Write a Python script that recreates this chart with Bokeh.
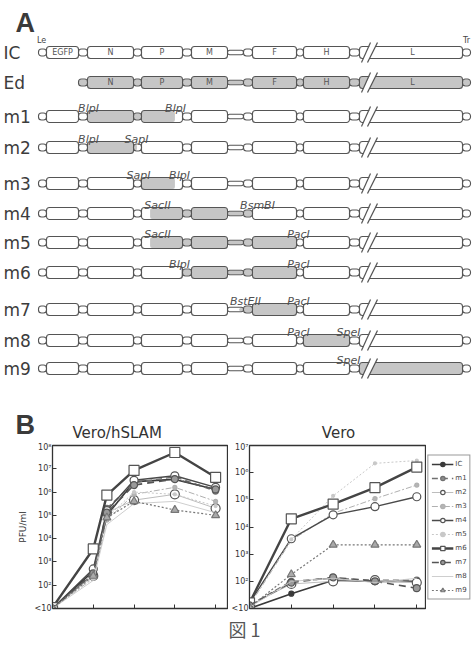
from bokeh.plotting import figure
from bokeh.models import Range1d, FixedTicker, CustomJSTickFormatter, Legend, LegendItem
from bokeh.layouts import column, row
from bokeh.core.properties import value
from bokeh.embed import file_html
from bokeh.resources import INLINE

# ------------------------------------------------------------------ data
construct_labels = ["IC", "Ed", "m1", "m2", "m3", "m4", "m5", "m6", "m7", "m8", "m9"]
gene_names = ["N", "P", "M", "F", "H", "L"]
reporter_name = "EGFP"
sites_m1 = ["BlpI", "BlpI"]
sites_m2 = ["BlpI", "SapI"]
sites_m3 = ["SapI", "BlpI"]
sites_m4 = ["SacII", "BsmBI"]
sites_m5 = ["SacII", "PacI"]
sites_m6 = ["BlpI", "PacI"]
sites_m7 = ["BstEII", "PacI"]
sites_m8 = ["PacI", "SpeI"]
sites_m9 = ["SpeI"]

series_names = ["IC", "m1", "m2", "m3", "m4", "m5", "m6", "m7", "m8", "m9"]

hours_hslam = [0, 24, 32, 48, 72, 96]
hslam_IC = [10, 400, 1.0e5, 2.8e6, 3.5e6, 1.3e6]
hslam_m1 = [10, 300, 2.0e5, 2.5e6, 4.5e6, 1.1e6]
hslam_m2 = [10, 250, 1.3e5, 4.5e5, 8.0e5, 2.0e5]
hslam_m3 = [10, 200, 6.3e4, 8.0e5, 1.6e6, 4.0e5]
hslam_m4 = [10, 500, 1.6e5, 3.2e6, 5.0e6, 1.6e6]
hslam_m5 = [10, 200, 8.0e4, 1.0e6, 8.0e5, 2.5e5]
hslam_m6 = [11, 3.6e3, 7.4e5, 8.5e6, 5.0e7, 4.3e6]
hslam_m7 = [10, 320, 1.3e5, 2.0e6, 3.6e6, 1.3e6]
hslam_m8 = [10, 160, 4.0e4, 3.2e5, 4.0e5, 1.3e5]
hslam_m9 = [10, 250, 8.0e4, 4.0e5, 1.7e5, 1.0e5]

hours_vero = [0, 24, 48, 72, 96]
vero_IC = [10, 35, 110, 100, 100]
vero_m1 = [13, 100, 130, 110, 110]
vero_m2 = [13, 80, 100, 110, 90]
vero_m3 = [13, 3.2e3, 3.2e4, 1.1e5, 3.5e5]
vero_m4 = [16, 3.7e3, 2.8e4, 5.6e4, 1.3e5]
vero_m5 = [13, 3.5e3, 1.4e5, 2.2e6, 2.8e6]
vero_m6 = [16, 2.0e4, 7.0e4, 2.8e5, 1.6e6]
vero_m7 = [13, 90, 140, 100, 56]
vero_m8 = [11, 100, 130, 90, 130]
vero_m9 = [11, 180, 2.2e3, 2.2e3, 2.2e3]

y_tick_values_hslam = [10, 1e2, 1e3, 1e4, 1e5, 1e6, 1e7, 1e8]
y_tick_values_vero = [10, 1e2, 1e3, 1e4, 1e5, 1e6, 1e7]
x_tick_hours = [24, 48, 72, 96]
y_label = "PFU/ml"
title_hslam = "Vero/hSLAM"
title_vero = "Vero"
panel_a_letter = "A"
panel_b_letter = "B"
caption_text = "図 1"

# ------------------------------------------------------------------ layout constants
W = 473
HA = 442          # top canvas: genome maps + panel-B headings
FONT = "DejaVu Sans"
FH = 163          # frame height of the growth curves
TOPB = 3
BOTB = 8
LEFT_FW = 175
RIGHT_FW = 176
YAXIS_W = 22      # width taken by the right chart's tick labels
row_py = [52, 82, 116, 147, 183, 213, 242, 272, 309, 340, 368]
NAN = float("nan")

def Y(py):
    return HA - py

# ------------------------------------------------------------------ panel A (genome maps)
LEADER = (38, 46, 3.5)
BOX0 = (46, 78, 6)
rest = [(78, 87, 3.5), (87, 133, 6), (133, 141, 3.5), (141, 182, 6), (182, 191, 3.5),
        (191, 227, 6), (227, 243, 2.2), (243, 252, 3.5), (252, 296, 6), (296, 303, 3.5),
        (303, 349, 6), (349, 359, 3.5), (359, 462, 6), (462, 470, 3.5)]
gene_label_x = [110, 161.5, 209, 274, 326, 412]

gray_spans = {"IC": None, "Ed": (78, 470), "m1": (87, 175), "m2": (87, 137), "m3": (141, 175),
              "m4": (149, 252), "m5": (149, 296), "m6": (180, 296), "m7": (238, 296),
              "m8": (303, 349), "m9": (359, 462)}
site_lists = {"m1": sites_m1, "m2": sites_m2, "m3": sites_m3, "m4": sites_m4, "m5": sites_m5,
              "m6": sites_m6, "m7": sites_m7, "m8": sites_m8, "m9": sites_m9}
site_x = {"m1": [88, 175], "m2": [88, 136], "m3": [138, 179], "m4": [157, 257],
          "m5": [157, 298], "m6": [179, 298], "m7": [245, 298], "m8": [298, 348], "m9": [348]}

pa = figure(width=W, height=HA, x_range=Range1d(0, W), y_range=Range1d(0, HA),
            output_backend="svg", toolbar_location=None, min_border=0)
pa.axis.visible = False
pa.grid.visible = False
pa.outline_line_color = None

el_l, el_r, el_t, el_b = [], [], [], []
g_l, g_r, g_t, g_b = [], [], [], []
sl_xs, sl_ys, wp_xs, wp_ys = [], [], [], []
for name, py in zip(construct_labels, row_py):
    yc = Y(py)
    elems = ([] if name == "Ed" else [LEADER, BOX0]) + rest
    for (x0, x1, h) in elems:
        el_l.append(x0); el_r.append(x1); el_t.append(yc + h); el_b.append(yc - h)
        gs = gray_spans[name]
        if gs is not None:
            a, b = max(x0, gs[0]), min(x1, gs[1])
            if b - a > 0.5:
                g_l.append(a + 0.6); g_r.append(b - 0.6); g_t.append(yc + h - 0.6); g_b.append(yc - h + 0.6)
    wp_xs.append([362.4, 368.6, 375.5, 369.3]); wp_ys.append([yc - 7, yc - 7, yc + 7, yc + 7])
    sl_xs += [[361, 370], [367, 377]]; sl_ys += [[yc - 10, yc + 10], [yc - 10, yc + 10]]

pa.quad(left=el_l, right=el_r, top=el_t, bottom=el_b, fill_color="white", line_color=None, border_radius=3)
pa.quad(left=g_l, right=g_r, top=g_t, bottom=g_b, fill_color="#c6c6c6", line_color=None, border_radius=2)
pa.quad(left=el_l, right=el_r, top=el_t, bottom=el_b, fill_color=None, line_color="#555555",
        line_width=1.1, border_radius=3)
pa.patches(xs=wp_xs, ys=wp_ys, fill_color="white", line_color=None)
pa.multi_line(xs=sl_xs, ys=sl_ys, line_color="#555555", line_width=1.2)

pa.text(x=[3] * len(construct_labels), y=[Y(v) for v in row_py], text=construct_labels,
        text_font=value(FONT), text_font_size="17px", text_color="#3c3c3c",
        text_baseline="middle", text_align="left")
for py in row_py[:2]:
    pa.text(x=gene_label_x, y=[Y(py)] * len(gene_names), text=gene_names, text_font=value(FONT),
            text_font_size="8px", text_color="#555555", text_baseline="middle", text_align="center")
pa.text(x=[62], y=[Y(row_py[0])], text=[reporter_name], text_font=value(FONT), text_font_size="8px",
        text_color="#555555", text_baseline="middle", text_align="center")
pa.text(x=[41, 466], y=[Y(40), Y(40)], text=["Le", "Tr"], text_font=value(FONT), text_font_size="8px",
        text_color="#444444", text_baseline="middle", text_align="center")
sx, sy, st = [], [], []
for name, py in zip(construct_labels, row_py):
    if name in site_lists:
        for s, x in zip(site_lists[name], site_x[name]):
            sx.append(x); sy.append(Y(py - 8)); st.append(s)
pa.text(x=sx, y=sy, text=st, text_font=value(FONT), text_font_style="italic", text_font_size="11px",
        text_color="#505050", text_baseline="alphabetic", text_align="center")
pa.text(x=[15, 15], y=[Y(22), Y(424)], text=[panel_a_letter, panel_b_letter],
        text_font=value("Liberation Sans"), text_font_style="bold",
        text_font_size="27px", text_color="#3a3a3a", text_baseline="middle", text_align="left")
# headings of the two growth-curve charts (directly above their frames)
pa.text(x=[72], y=[Y(432)], text=[title_hslam], text_font=value(FONT), text_font_size="15px",
        text_color="#333333", text_baseline="middle", text_align="left")
right_frame_center = 52 + LEFT_FW + 1 + YAXIS_W + RIGHT_FW / 2
pa.text(x=[right_frame_center], y=[Y(432)], text=[title_vero], text_font=value(FONT), text_font_size="15px",
        text_color="#333333", text_baseline="middle", text_align="center")

# ------------------------------------------------------------------ panel B (growth curves)
styles = {
    "IC": dict(color="#3a3a3a", dash="solid", width=1.6, marker="circle", size=5, fill="#3a3a3a"),
    "m1": dict(color="#707070", dash="6 4", width=1.4, marker="circle", size=6, fill="#8c8c8c"),
    "m2": dict(color="#bdbdbd", dash="solid", width=1.0, marker="circle", size=9, fill="white"),
    "m3": dict(color="#b0b0b0", dash="6 2 2 2", width=1.0, marker="circle", size=4, fill="#b5b5b5"),
    "m4": dict(color="#4a4a4a", dash="solid", width=1.4, marker="circle", size=8, fill="white"),
    "m5": dict(color="#c8c8c8", dash="2 2", width=1.0, marker="circle", size=3, fill="#c8c8c8"),
    "m6": dict(color="#444444", dash="solid", width=2.4, marker="square", size=10, fill="white"),
    "m7": dict(color="#555555", dash="7 5", width=1.6, marker="circle", size=7, fill="#9a9a9a"),
    "m8": dict(color="#c8c8c8", dash="solid", width=0.9, marker=None, size=0, fill=None),
    "m9": dict(color="#777777", dash="2 2", width=1.2, marker="triangle", size=8, fill="#aaaaaa"),
}

hslam_values = [hslam_IC, hslam_m1, hslam_m2, hslam_m3, hslam_m4, hslam_m5, hslam_m6, hslam_m7, hslam_m8, hslam_m9]
vero_values = [vero_IC, vero_m1, vero_m2, vero_m3, vero_m4, vero_m5, vero_m6, vero_m7, vero_m8, vero_m9]

tick_fmt_code = """
const sup = ["\u2070","\u00b9","\u00b2","\u00b3","\u2074","\u2075","\u2076","\u2077","\u2078","\u2079"];
const e = Math.round(Math.log10(tick));
if (e <= 1) { return "<10"; }
return "10" + sup[e];
"""

def add_series(p, name, xs, ys):
    st = styles[name]
    rs = [p.line(xs, ys, line_color=st["color"], line_dash=st["dash"], line_width=st["width"])]
    if st["marker"]:
        rs.append(p.scatter(xs, ys, marker=st["marker"], size=st["size"], fill_color=st["fill"],
                            line_color=st["color"] if st["fill"] != "white" else "#555555", line_width=1.2))
    return rs

def make_chart(hours, values, ymax, ticks, frame_w, left_border, right_border, xend):
    p = figure(frame_width=frame_w, frame_height=FH, y_axis_type="log", x_range=Range1d(0, xend),
               y_range=Range1d(10, ymax), output_backend="svg", toolbar_location=None,
               min_border_left=left_border, min_border_right=right_border,
               min_border_top=TOPB, min_border_bottom=BOTB)
    p.grid.visible = False
    p.outline_line_color = "#333333"
    p.outline_line_width = 1.3
    p.yaxis.ticker = FixedTicker(ticks=ticks, minor_ticks=[])
    p.yaxis.formatter = CustomJSTickFormatter(code=tick_fmt_code)
    p.xaxis.ticker = FixedTicker(ticks=x_tick_hours, minor_ticks=[])
    p.xaxis.formatter = CustomJSTickFormatter(code="return '';")
    p.xaxis.major_label_standoff = 0
    for ax in (p.xaxis, p.yaxis):
        ax.major_tick_in = 4
        ax.major_tick_out = 0
        ax.minor_tick_in = 0
        ax.minor_tick_out = 0
        ax.axis_line_color = "#333333"
        ax.major_tick_line_color = "#333333"
    p.yaxis.major_label_text_font = FONT
    p.yaxis.major_label_text_font_size = "8px"
    p.yaxis.major_label_text_color = "#333333"
    p.yaxis.major_label_standoff = 1
    for name, vals in zip(series_names, values):
        add_series(p, name, hours, vals)
    return p

pl = make_chart(hours_hslam, hslam_values, 1e8, y_tick_values_hslam, LEFT_FW, 52, 1, 103)
pl.yaxis.axis_label = y_label
pl.yaxis.axis_label_text_font = FONT
pl.yaxis.axis_label_text_font_style = "normal"
pl.yaxis.axis_label_text_font_size = "9px"
pl.yaxis.axis_label_text_color = "#333333"
pl.yaxis.axis_label_standoff = 4

pr = make_chart(hours_vero, vero_values, 1e7, y_tick_values_vero, RIGHT_FW, 15, 1, 101)

# legend box beside the Vero chart (own small canvas; key glyphs use the same styles, no visible data)
plg = figure(width=W - (52 + LEFT_FW + 1) - (YAXIS_W + RIGHT_FW + 1), height=TOPB + FH + BOTB,
             x_range=Range1d(0, 1), y_range=Range1d(0, 1), output_backend="svg",
             toolbar_location=None, min_border=0)
plg.axis.visible = False
plg.grid.visible = False
plg.outline_line_color = None
items = [LegendItem(label=name, renderers=add_series(plg, name, [NAN, NAN], [NAN, NAN]))
         for name in series_names]
legend = Legend(items=items, location="center", label_text_font=FONT, label_text_font_size="7px",
                label_text_color="#444444", glyph_width=22, glyph_height=11, label_height=11,
                label_width=10, spacing=3, padding=3, margin=0, border_line_color="#333333",
                border_line_width=1, label_standoff=2)
plg.add_layout(legend)

# ------------------------------------------------------------------ caption
HC = 646 - HA - (TOPB + FH + BOTB)
pc = figure(width=W, height=HC, x_range=Range1d(0, W), y_range=Range1d(0, HC),
            output_backend="svg", toolbar_location=None, min_border=0)
pc.axis.visible = False
pc.grid.visible = False
pc.outline_line_color = None
pc.text(x=[244], y=[HC - 12], text=[caption_text], text_font=value("Noto Sans CJK JP"),
        text_font_size="18px", text_color="#555555", text_align="center", text_baseline="middle")

layout = column(pa, row(pl, pr, plg), pc)
with open("out.html", "w", encoding="utf-8") as f:
    f.write(file_html(layout, INLINE))
